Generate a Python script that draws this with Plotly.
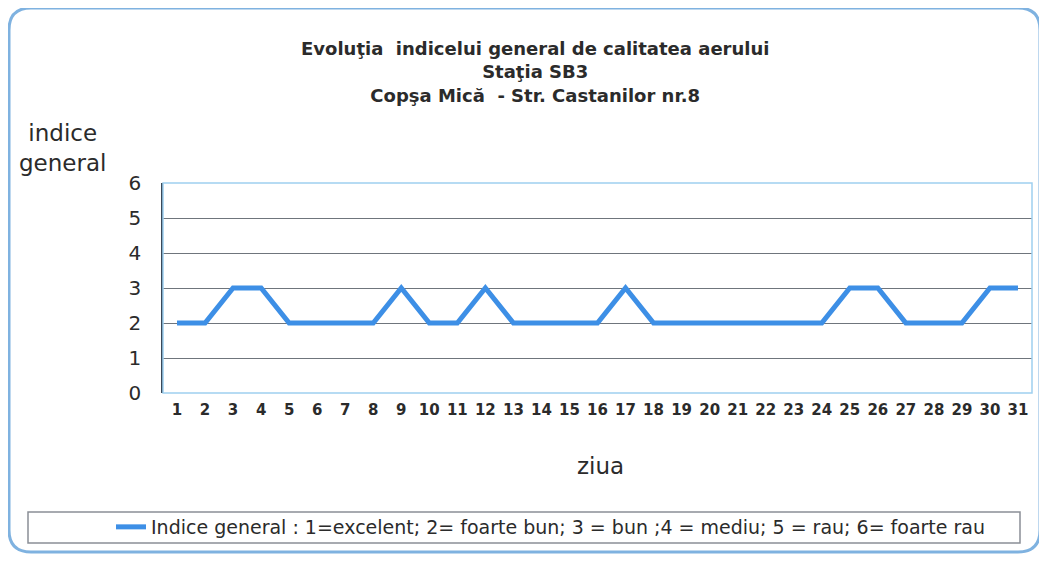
import plotly.graph_objects as go

days = [str(d) for d in range(1, 32)]
values = [2, 2, 3, 3, 2, 2, 2, 2, 3, 2, 2, 3, 2, 2, 2, 2, 3, 2, 2, 2, 2, 2, 2, 2, 3, 3, 2, 2, 2, 3, 3]
y_ticks = [0, 1, 2, 3, 4, 5, 6]

title_lines = ["Evoluţia  indicelui general de calitatea aerului", "Staţia SB3", "Copşa Mică  - Str. Castanilor nr.8"]
y_title = "indice<br>general"
x_title = "ziua"
series_name = "Indice general : 1=excelent; 2= foarte bun; 3 = bun ;4 = mediu; 5 = rau; 6= foarte rau"

FONT = "DejaVu Sans, Arial"
TXT = "#2b2b2b"
W, H = 1047, 562
OFF = 8  # page body margin offset
# target screen positions of the plot area
SL, SR, ST, SB = 163, 1032, 183, 393
L, T = SL - OFF, ST - OFF
R = W - (SR - OFF)
B = H - (SB - OFF)
pw, ph = W - L - R, H - T - B


def px_x(x):
    return (x - OFF - L) / pw


def px_y(y):
    return (H - B - (y - OFF)) / ph


fig = go.Figure()
fig.add_trace(go.Scatter(
    x=days, y=values, mode="lines", name=series_name,
    line=dict(color="#3d8fe6", width=5),
))

# outer rounded border
x0, x1, y0, y1 = px_x(9), px_x(1040), px_y(8), px_y(552)
rx, ry = 22 / pw, 22 / ph
path = (f"M {x0+rx},{y0} L {x1-rx},{y0} Q {x1},{y0} {x1},{y0-ry} "
        f"L {x1},{y1+ry} Q {x1},{y1} {x1-rx},{y1} "
        f"L {x0+rx},{y1} Q {x0},{y1} {x0},{y1+ry} "
        f"L {x0},{y0-ry} Q {x0},{y0} {x0+rx},{y0} Z")
shapes = [
    dict(type="path", xref="paper", yref="paper", path=path,
         line=dict(color="#7fb2e0", width=3), layer="below"),
    dict(type="rect", xref="paper", yref="paper",
         x0=px_x(28), x1=px_x(1020), y0=px_y(512), y1=px_y(543),
         line=dict(color="#8a8f96", width=1.5)),
    dict(type="rect", xref="paper", yref="paper", x0=0, x1=1, y0=0, y1=1,
         line=dict(color="#9fd0f0", width=1.5)),
]

annotations = [
    dict(text="<br>".join(title_lines), x=px_x(535), y=px_y(72), xref="paper", yref="paper",
         showarrow=False, font=dict(size=18, color=TXT, family=FONT, weight="bold"),
         xanchor="center", yanchor="middle", align="center"),
    dict(text=y_title, x=px_x(62), y=px_y(148), xref="paper", yref="paper",
         showarrow=False, font=dict(size=23, color=TXT, family=FONT),
         xanchor="center", yanchor="middle", align="center"),
    dict(text=x_title, x=px_x(600), y=px_y(466), xref="paper", yref="paper",
         showarrow=False, font=dict(size=23, color=TXT, family=FONT),
         xanchor="center", yanchor="middle"),
]

fig.update_layout(
    width=W, height=H,
    margin=dict(l=L, r=R, t=T, b=B),
    paper_bgcolor="white", plot_bgcolor="white",
    font=dict(family=FONT, color=TXT),
    shapes=shapes, annotations=annotations,
    showlegend=True,
    legend=dict(x=px_x(111), y=px_y(527), xanchor="left", yanchor="middle",
                orientation="h", bgcolor="rgba(0,0,0,0)",
                font=dict(size=19, color=TXT)),
    xaxis=dict(type="category", range=[-0.5, 30.5], showgrid=False, zeroline=False,
               showline=False, ticks="", tickfont=dict(size=15, color=TXT, weight="bold"),
               tickangle=0, ticklabelstandoff=6),
    yaxis=dict(range=[0, 6], tickvals=y_ticks, showgrid=True, gridcolor="#6f757c",
               gridwidth=1, zeroline=False, showline=True, linecolor="#3a4a5a",
               linewidth=1.5, ticks="", tickfont=dict(size=20, color=TXT),
               ticklabelstandoff=16),
)

fig.write_html("out.html")
